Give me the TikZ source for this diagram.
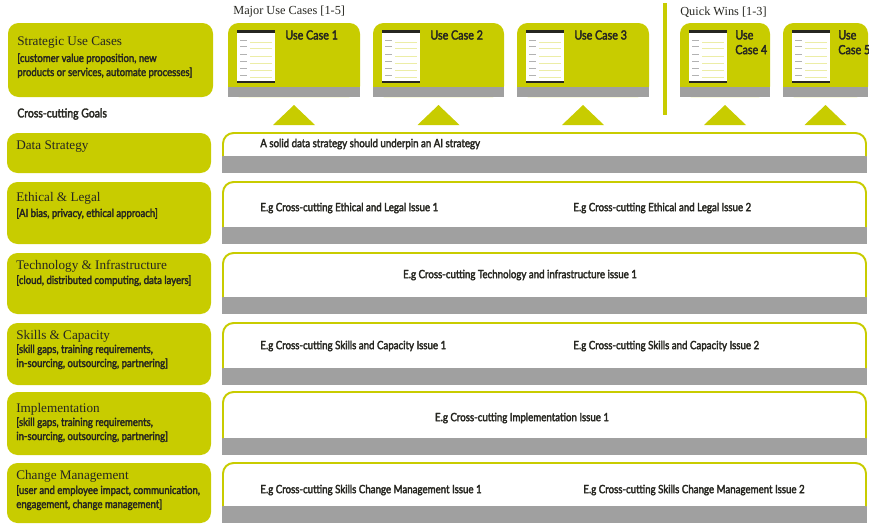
\documentclass[tikz,border=0pt]{standalone}
\usepackage{fontspec}
\setmainfont{Liberation Serif}
\newfontfamily\condbf[FakeStretch=0.85, FakeBold=2.6]{Lato}
\usetikzlibrary{positioning}

\definecolor{limegreen}{RGB}{200,204,0}
\definecolor{bandgrey}{RGB}{160,160,160}
\definecolor{inkdark}{RGB}{38,38,32}

\tikzset{
  goaltitle/.style={anchor=west, inner sep=0pt, text=inkdark, font=\fontsize{7.5}{8}\selectfont},
  goalsub/.style={anchor=north west, inner sep=0pt, align=left, text=inkdark,
    font=\condbf\fontsize{6.4}{8}\selectfont},
  issue/.style={inner sep=0pt, text=inkdark, font=\condbf\fontsize{6.5}{7}\selectfont},
  caselabel/.style={anchor=north west, inner sep=0pt, align=left, text=inkdark,
    font=\condbf\fontsize{7.2}{8.4}\selectfont},
}

\begin{document}
\begin{tikzpicture}[x=0.02cm,y=-0.02cm]
  \useasboundingbox (0,0) rectangle (869,525);

  % strategic use cases box
  \fill[limegreen, rounded corners=6pt] (8,23) rectangle (213,97);

  % use case screens
  \foreach \l/\r in {228/360, 373/504, 517/649, 680/770, 783/868}{
    \fill[limegreen, rounded corners=6pt] (\l,23) rectangle (\r,97);
    \fill[bandgrey] (\l,87) rectangle (\r,97);
    \fill[white] (\l+9,30) rectangle (\l+47,83);
    \fill[inkdark] (\l+9,30) rectangle (\l+47,33);
    \fill[inkdark] (\l+9,81) rectangle (\l+47,82.5);
    \foreach \y in {40,46,54,61,68,75}{
      \draw[gray!60, line width=0.3pt] (\l+12,\y) -- (\l+19,\y);
      \draw[limegreen!35, line width=0.3pt] (\l+22,\y+2) -- (\l+44,\y+2);
    }
    \fill[limegreen] ({(\l+\r)/2-21},125) -- ({(\l+\r)/2},105) -- ({(\l+\r)/2+21},125) -- cycle;
  }
  \draw[limegreen, line width=1.8pt] (665,3) -- (665,115);

  % goal rows: left box, white panel, grey band
  \foreach \t/\b in {133/173, 182/244, 253/314, 323/385, 392/455, 463/523}{
    \fill[limegreen, rounded corners=6pt] (7,\t) rectangle (211,\b);
    \fill[white] (223,\t) rectangle (866,\b-17);
    \fill[bandgrey] (222,\b-17) rectangle (867,\b);
    \draw[limegreen, line width=1.1pt, rounded corners=6pt] (223,\b-17) -- (223,\t) -- (866,\t) -- (866,\b-17);
  }

  % headings
  \node[anchor=west, inner sep=0pt, text=inkdark, font=\fontsize{7}{8}\selectfont] (major) at (233,12) {Major Use Cases [1-5]};
  \node[anchor=west, inner sep=0pt, text=inkdark, font=\fontsize{7}{8}\selectfont] (quick) at (680,12) {Quick Wins [1-3]};
  \node[anchor=west, inner sep=0pt, text=inkdark, font=\condbf\fontsize{7}{8}\selectfont] (cross) at (17,114) {Cross-cutting Goals};

  % use case labels
  \node[caselabel] (uc1) at (285,30) {Use Case 1};
  \node[caselabel] (uc2) at (430,30) {Use Case 2};
  \node[caselabel] (uc3) at (574,30) {Use Case 3};
  \node[caselabel] (uc4) at (735,30) {Use\\Case 4};
  \node[caselabel] (uc5) at (838,30) {Use\\Case 5};

  % left column
  \node[goaltitle] (strat) at (17,43) {Strategic Use Cases};
  \node[goalsub] (strat-sub) at (17,53) {[customer value proposition, new\\products or services, automate processes]};
  \node[goaltitle] (data) at (16,147) {Data Strategy};
  \node[goaltitle] (ethic) at (16,198) {Ethical \& Legal};
  \node[goalsub] (ethic-sub) at (16,208) {[AI bias, privacy, ethical approach]};
  \node[goaltitle] (tech) at (16,266) {Technology \& Infrastructure};
  \node[goalsub] (tech-sub) at (16,275) {[cloud, distributed computing, data layers]};
  \node[goaltitle] (skill) at (16,336) {Skills \& Capacity};
  \node[goalsub] (skill-sub) at (16,344) {[skill gaps, training requirements,\\in-sourcing, outsourcing, partnering]};
  \node[goaltitle] (impl) at (16,409) {Implementation};
  \node[goalsub] (impl-sub) at (16,417) {[skill gaps, training requirements,\\in-sourcing, outsourcing, partnering]};
  \node[goaltitle] (change) at (16,476) {Change Management};
  \node[goalsub] (change-sub) at (16,485) {[user and employee impact, communication,\\engagement, change management]};

  % cross-cutting issues
  \node[issue, anchor=west] (data-i) at (260,144) {A solid data strategy should underpin an AI strategy};
  \node[issue, anchor=west] (ethic-i1) at (260,208) {E.g Cross-cutting Ethical and Legal Issue 1};
  \node[issue, anchor=west] (ethic-i2) at (573,208) {E.g Cross-cutting Ethical and Legal Issue 2};
  \node[issue] (tech-i) at (520,275) {E.g Cross-cutting Technology and infrastructure issue 1};
  \node[issue, anchor=west] (skill-i1) at (260,346) {E.g Cross-cutting Skills and Capacity Issue 1};
  \node[issue, anchor=west] (skill-i2) at (573,346) {E.g Cross-cutting Skills and Capacity Issue 2};
  \node[issue] (impl-i) at (522,418) {E.g Cross-cutting Implementation Issue 1};
  \node[issue, anchor=west] (change-i1) at (260,490) {E.g Cross-cutting Skills Change Management Issue 1};
  \node[issue, anchor=west] (change-i2) at (583,490) {E.g Cross-cutting Skills Change Management Issue 2};
\end{tikzpicture}
\end{document}
